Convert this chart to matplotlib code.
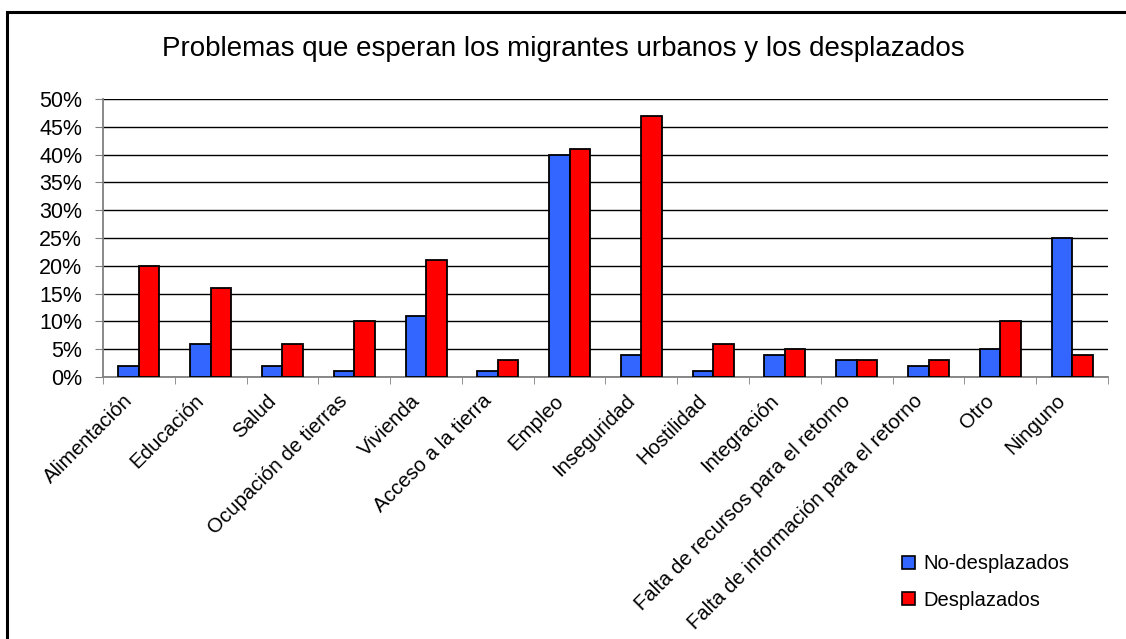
import matplotlib.pyplot as plt
import matplotlib.patches as mpatches
import matplotlib.transforms as mtransforms
import numpy as np
from matplotlib.ticker import PercentFormatter

plt.rcParams['font.family'] = ['Liberation Sans', 'DejaVu Sans']

# Data
categories = ['Alimentación', 'Educación', 'Salud', 'Ocupación de tierras', 'Vivienda',
              'Acceso a la tierra', 'Empleo', 'Inseguridad', 'Hostilidad', 'Integración',
              'Falta de recursos para el retorno', 'Falta de información para el retorno',
              'Otro', 'Ninguno']
no_desplazados = [2, 6, 2, 1, 11, 1, 40, 4, 1, 4, 3, 2, 5, 25]
desplazados = [20, 16, 6, 10, 21, 3, 41, 47, 6, 5, 3, 3, 10, 4]
series_names = ['No-desplazados', 'Desplazados']
title = 'Problemas que esperan los migrantes urbanos y los desplazados'

fig = plt.figure(figsize=(11.26, 6.39), dpi=100)
ax = fig.add_axes([103 / 1126, (639 - 377) / 639, (1108 - 103) / 1126, (377 - 99) / 639])

x = np.arange(len(categories))
width = 0.286
ax.bar(x - width / 2, no_desplazados, width, color='#3366FF', edgecolor='black',
       linewidth=1.3, label=series_names[0], zorder=3)
ax.bar(x + width / 2, desplazados, width, color='#FF0000', edgecolor='black',
       linewidth=1.3, label=series_names[1], zorder=3)

ax.set_xlim(-0.5, len(categories) - 0.5)
ax.set_ylim(0, 50)
ax.set_yticks(np.arange(0, 51, 5))
ax.yaxis.set_major_formatter(PercentFormatter(decimals=0))
ax.grid(axis='y', color='black', linewidth=1.0, zorder=0)

ax.set_xticks(x)
ax.set_xticklabels(categories, rotation=45, ha='right', rotation_mode='anchor')
ax.set_xticks(np.arange(-0.5, len(categories), 1), minor=True)
ax.tick_params(axis='x', which='major', length=0, pad=8, labelsize=14.7)
ax.tick_params(axis='x', which='minor', length=5, color='#808080', direction='out')
ax.tick_params(axis='y', length=6, color='#808080', labelsize=15.5, pad=9)

# shift the rotated category labels a little down-left, like the original layout
offset = mtransforms.ScaledTranslation(-0.16, -0.03, fig.dpi_scale_trans)
for lbl in ax.get_xticklabels():
    lbl.set_transform(lbl.get_transform() + offset)

for side in ['top', 'right']:
    ax.spines[side].set_visible(False)
for side in ['left', 'bottom']:
    ax.spines[side].set_color('#808080')
    ax.spines[side].set_linewidth(1.3)

fig.text(0.5, 1 - 49 / 639, title, ha='center', va='center', fontsize=20)

handles = [mpatches.Patch(facecolor='#3366FF', edgecolor='black', linewidth=1.2),
           mpatches.Patch(facecolor='#FF0000', edgecolor='black', linewidth=1.2)]
fig.legend(handles, series_names, loc='center left',
           bbox_to_anchor=(884 / 1126, 1 - 582 / 639), frameon=False, fontsize=14.5,
           handlelength=0.65, handleheight=0.65, handletextpad=0.4, labelspacing=0.85)

# outer border of the original figure frame
fig.add_artist(mpatches.Rectangle((7 / 1126, -0.1), 1.1, 1 - 12 / 639 + 0.1,
                                  transform=fig.transFigure, fill=False,
                                  edgecolor='black', linewidth=2.2, clip_on=False))

fig.savefig('out.png', dpi=100)
